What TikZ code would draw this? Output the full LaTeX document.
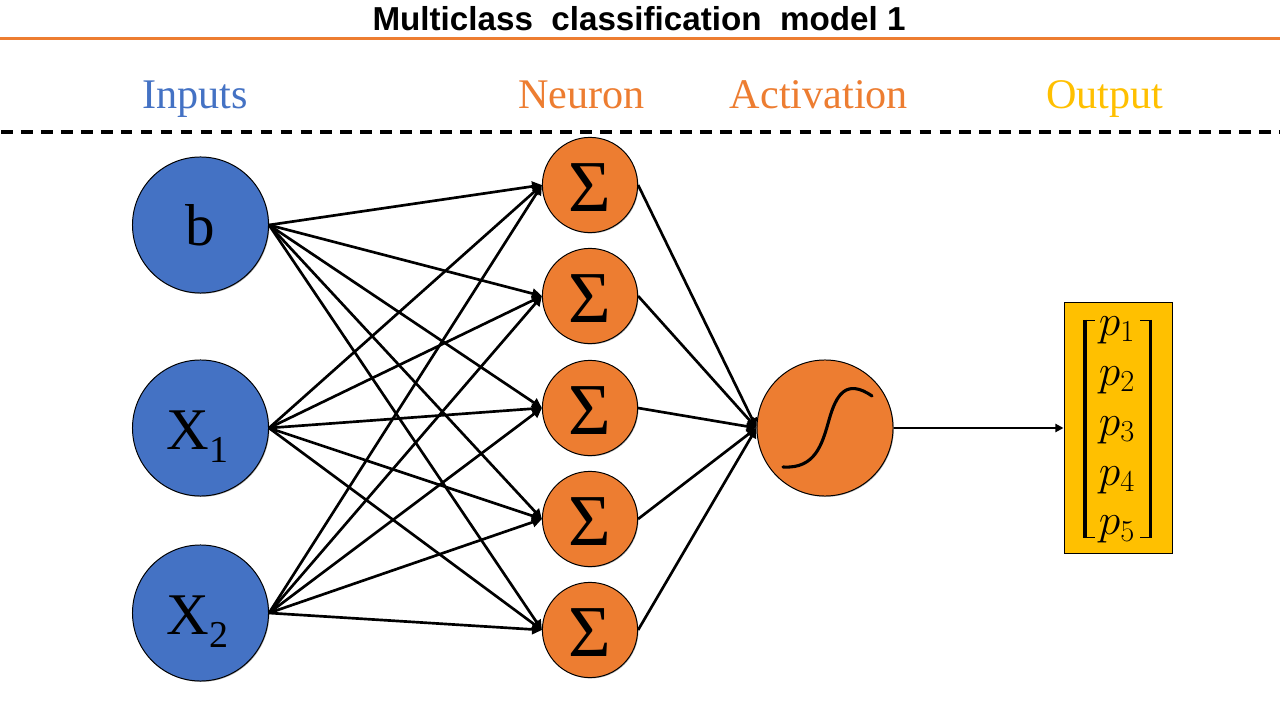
\RequirePackage{fix-cm}
\documentclass[tikz,border=0pt]{standalone}
\usepackage{amsmath}
\usepackage{fontspec}
\usepackage{xcolor}
\usepackage{tikz}
\setmainfont{Liberation Serif}
\newfontfamily\titlefont{Liberation Sans}
\definecolor{inblue}{HTML}{4472C4}
\definecolor{neuorange}{HTML}{ED7D31}
\definecolor{outgold}{HTML}{FFC000}
\newcommand{\lowsub}[1]{\raisebox{-9pt}[40pt][9pt]{\fontsize{27}{27}\selectfont #1}\kern4pt}
\usetikzlibrary{arrows.meta,positioning,calc,shadows}

\begin{document}
\begin{tikzpicture}[
  x=0.025cm, y=-0.025cm,
  softshadow/.style={drop shadow={shadow xshift=0.6pt, shadow yshift=-0.6pt, opacity=0.3, fill=black}},
  input/.style={circle, draw=black, line width=0.7pt, fill=inblue, minimum size=3.4cm,
                inner sep=0pt, font=\fontsize{42}{42}\selectfont, softshadow},
  neuron/.style={circle, draw=black, line width=0.7pt, fill=neuorange, minimum size=2.38cm,
                 inner sep=0pt, text height=37.4pt, text depth=0pt,
                 font=\fontsize{52}{52}\selectfont, softshadow},
  activ/.style={circle, draw=black, line width=0.7pt, fill=neuorange, minimum size=3.4cm,
                inner sep=0pt, softshadow},
  outbox/.style={rectangle, draw=black, line width=0.7pt, fill=outgold, minimum width=2.7cm,
                 minimum height=6.25cm, inner sep=0pt, softshadow},
  plist/.style={align=center, inner sep=0pt, font=\fontsize{31}{35.5}\selectfont},
  head/.style={anchor=base, font=\fontsize{30}{30}\selectfont},
  arr/.style={-{Triangle[length=7pt,width=7pt]}, line width=1.9pt},
  arrsmall/.style={-{Triangle[length=5.8pt,width=5.8pt]}, line width=1.6pt}
]
\useasboundingbox (0,0) rectangle (1280,720);
\fill[white] (0,0) rectangle (1280,720);
% header
\node[font=\titlefont\bfseries\fontsize{23.6}{24}\selectfont] (title) at (639,19) {Multiclass\ \ classification\ \ model 1};
\coordinate (ruleL) at (0,38.5);
\coordinate (ruleR) at (1280,38.5);
\draw[neuorange, line width=1.6pt] (ruleL) -- (ruleR);
\node[head, text=inblue]     (hInputs) at (195,109)    {Inputs};
\node[head, text=neuorange]  (hNeuron) at (581.5,109)  {Neuron};
\node[head, text=neuorange]  (hActiv)  at (819,109)    {Activation};
\node[head, text=outgold]    (hOutput) at (1105,109)   {Output};
\coordinate (dashL) at (1,132);
\coordinate (dashR) at (1280,132);
\draw[line width=2.5pt, dash pattern=on 8.3pt off 5.9pt] (dashL) -- (dashR);
% inputs
\node[input] (b)  at (200.5,225) {b};
\node[input] (X1) at (200.5,428) {X\lowsub{1}};
\node[input] (X2) at (200.5,613) {X\lowsub{2}};
% neurons
\node[neuron] (N1) at (590,185) {Σ};
\node[neuron] (N2) at (590,296) {Σ};
\node[neuron] (N3) at (590,408) {Σ};
\node[neuron] (N4) at (590,519) {Σ};
\node[neuron] (N5) at (590,630) {Σ};
% activation and output
\node[activ] (act) at (825,428) {};
\node[outbox] (out) at (1118,428) {};
\node[plist] (plist) at (1117,430) {$p_1$\\$p_2$\\$p_3$\\$p_4$\\$p_5$};
\draw[line width=2.4pt] (1085,320) -- (1085,538);
\draw[line width=2.4pt] (1150.5,320) -- (1150.5,538);
\draw[line width=1.2pt] (1085,320.5) -- (1095,320.5) (1085,537.5) -- (1095,537.5);
\draw[line width=1.2pt] (1140,320.5) -- (1150.5,320.5) (1140,537.5) -- (1150.5,537.5);
\draw[line width=2.2pt, line cap=round] (783,467) .. controls (815,469) and (822,445) .. (829,420)
  .. controls (836,395) and (846,378) .. (872,396);
% inputs to neurons
\draw[arr] (b.east) -- (N1.west);
\draw[arr] (b.east) -- (N2.west);
\draw[arr] (b.east) -- (N3.west);
\draw[arr] (b.east) -- (N4.west);
\draw[arr] (b.east) -- (N5.west);
\draw[arr] (X1.east) -- (N1.west);
\draw[arr] (X1.east) -- (N2.west);
\draw[arr] (X1.east) -- (N3.west);
\draw[arr] (X1.east) -- (N4.west);
\draw[arr] (X1.east) -- (N5.west);
\draw[arr] (X2.east) -- (N1.west);
\draw[arr] (X2.east) -- (N2.west);
\draw[arr] (X2.east) -- (N3.west);
\draw[arr] (X2.east) -- (N4.west);
\draw[arr] (X2.east) -- (N5.west);
% neurons to activation
\draw[arr] (N1.east) -- (act.west);
\draw[arr] (N2.east) -- (act.west);
\draw[arr] (N3.east) -- (act.west);
\draw[arr] (N4.east) -- (act.west);
\draw[arr] (N5.east) -- (act.west);
\draw[arrsmall] (act.east) -- (out.west);
\end{tikzpicture}
\end{document}
